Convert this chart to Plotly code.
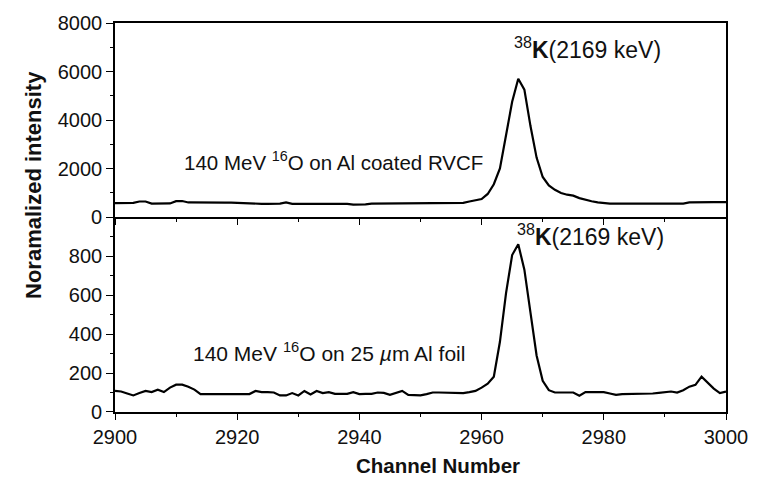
import numpy as np
import plotly.graph_objects as go
from plotly.subplots import make_subplots

# Channel axis shared by both spectra
channels = np.arange(2900, 3001)

# 140 MeV 16O on Al coated RVCF (normalized counts per channel)
rvcf_counts = [
    570, 570, 570, 580, 640, 640, 555, 550, 550, 560,
    655, 660, 600, 595, 595, 595, 595, 595, 595, 595,
    585, 545, 545, 545, 545, 545, 545, 550, 600, 545,
    545, 545, 545, 545, 545, 545, 545, 545, 545, 510,
    500, 520, 555, 555, 555, 555, 555, 555, 555, 555,
    555, 555, 570, 580, 580, 580, 580, 585, 640, 690,
    740, 950, 1350, 2000, 3300, 4750, 5700, 5250, 3750, 2450,
    1650, 1300, 1120, 990, 920, 880, 780, 700, 650, 600,
    570, 555, 555, 555, 555, 555, 555, 555, 555, 555,
    555, 555, 555, 555, 600, 610, 610, 610, 610, 610,
    610,
]

# 140 MeV 16O on 25 um Al foil (normalized counts per channel)
foil_counts = [
    108, 105, 95, 85, 97, 108, 102, 114, 102, 125,
    140, 140, 130, 115, 92, 92, 92, 92, 92, 92,
    92, 92, 92, 108, 102, 102, 100, 85, 85, 97,
    85, 108, 90, 108, 97, 102, 93, 93, 93, 102,
    92, 93, 93, 100, 98, 88, 98, 108, 88, 88,
    85, 92, 100, 100, 100, 100, 100, 97, 102, 108,
    125, 145, 181, 360, 610, 805, 860, 730, 510, 290,
    160, 112, 100, 100, 100, 100, 83, 102, 102, 102,
    102, 95, 88, 92, 92, 92, 92, 93, 95, 98,
    100, 105, 100, 112, 130, 139, 181, 150, 120, 97,
    105,
]

top_ticks = [0, 2000, 4000, 6000, 8000]
bottom_ticks = [0, 200, 400, 600, 800]
bottom_minor = [100, 300, 500, 700, 900]
x_ticks = [2900, 2920, 2940, 2960, 2980, 3000]

FONT = "Liberation Sans, Arial, sans-serif"
INK = "#111111"

fig = make_subplots(rows=2, cols=1, shared_xaxes=True, vertical_spacing=0)

fig.add_trace(go.Scatter(x=channels, y=rvcf_counts, mode="lines",
                         line=dict(color="black", width=2.2), showlegend=False),
              row=1, col=1)
fig.add_trace(go.Scatter(x=channels, y=foil_counts, mode="lines",
                         line=dict(color="black", width=2.2), showlegend=False),
              row=2, col=1)

split = (412 - 215) / 393.0

axis_common = dict(showline=True, linecolor="black", linewidth=1.6,
                   showgrid=False, zeroline=False, ticks="outside",
                   tickcolor="black", tickwidth=1.2,
                   tickfont=dict(family=FONT, size=20, color=INK))

fig.update_layout(
    width=760, height=483,
    margin=dict(l=115, r=29, t=19, b=71),
    paper_bgcolor="white", plot_bgcolor="white",
    xaxis=dict(**axis_common, domain=[0, 1], range=[2900, 3000],
               tickvals=x_ticks, showticklabels=False, ticklen=6, mirror=True,
               minor=dict(dtick=10, tick0=2900, ticks="outside", ticklen=3,
                          tickcolor="black")),
    xaxis2=dict(**axis_common, domain=[0, 1], range=[2900, 3000],
                tickvals=x_ticks, ticklen=6,
                minor=dict(dtick=10, tick0=2900, ticks="outside", ticklen=3,
                           tickcolor="black")),
    yaxis=dict(**axis_common, domain=[split, 1], range=[0, 8000],
               tickvals=top_ticks, ticklen=7, mirror=True,
               minor=dict(dtick=1000, tick0=0, ticks="outside", ticklen=3,
                          tickcolor="black")),
    yaxis2=dict(**axis_common, domain=[0, split], range=[0, 1000],
                tickvals=bottom_ticks, ticklen=7, mirror=True,
                minor=dict(tickvals=bottom_minor, ticks="outside", ticklen=3,
                           tickcolor="black")),
)

peak_font = dict(family=FONT, size=23, color=INK)

fig.add_annotation(x=2911.0, y=2300, xref="x", yref="y", xanchor="left",
                   yanchor="middle", showarrow=False,
                   font=dict(family=FONT, size=20.5, color=INK),
                   text="140 MeV <sup>16</sup>O on Al coated RVCF")
fig.add_annotation(x=2964.9, y=6950, xref="x", yref="y", xanchor="left",
                   yanchor="middle", showarrow=False, font=peak_font,
                   text="<sup>38</sup><b>K</b>(2169 keV)")
fig.add_annotation(x=2912.5, y=310, xref="x2", yref="y2", xanchor="left",
                   yanchor="middle", showarrow=False,
                   font=dict(family=FONT, size=21, color=INK),
                   text="140 MeV <sup>16</sup>O on 25 <i>\u00b5</i>m Al foil")
fig.add_annotation(x=2965.4, y=910, xref="x2", yref="y2", xanchor="left",
                   yanchor="middle", showarrow=False, font=peak_font,
                   text="<sup>38</sup><b>K</b>(2169 keV)")

# Axis titles
fig.add_annotation(x=(33 - 115) / 616.0, y=(412 - 183) / 393.0,
                   xref="paper", yref="paper", textangle=-90,
                   showarrow=False, xanchor="center", yanchor="middle",
                   font=dict(family=FONT, size=22, color=INK),
                   text="<b>Noramalized intensity</b>")
fig.add_annotation(x=(441 - 115) / 616.0, y=(412 - 466) / 393.0,
                   xref="paper", yref="paper", showarrow=False,
                   xanchor="center", yanchor="middle",
                   font=dict(family=FONT, size=20.5, color=INK),
                   text="<b>Channel Number</b>")

fig.write_html("out.html")
